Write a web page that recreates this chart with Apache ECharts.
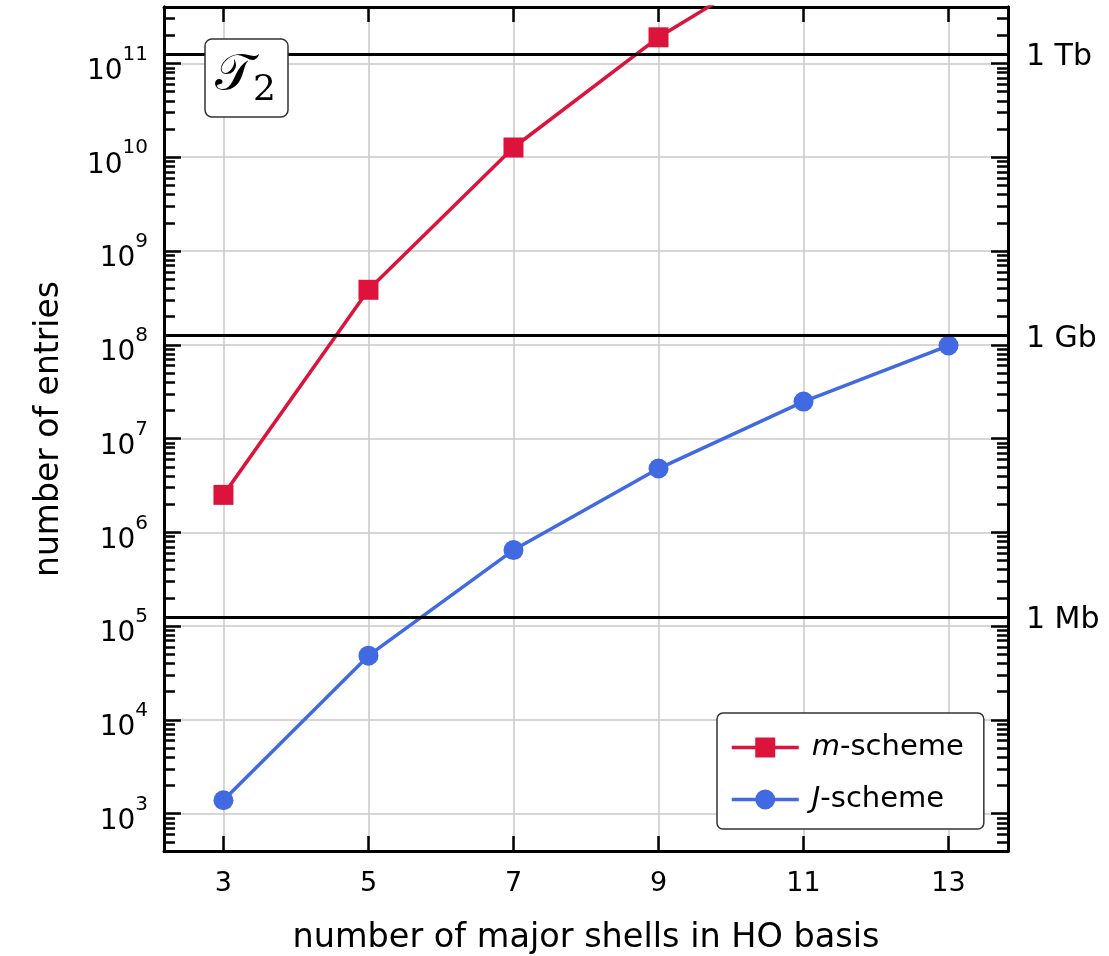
<!DOCTYPE html>
<html>
<head>
<meta charset="utf-8">
<script src="https://cdn.jsdelivr.net/npm/echarts@6/dist/echarts.min.js"></script>
<style>html,body{margin:0;padding:0;background:#fff}#c{width:1109px;height:956px}</style>
</head>
<body>
<div id="c"></div>
<script>
// ---- data ----
const shells = [3, 5, 7, 9, 11, 13];
const mSchemeShells = [3, 5, 7, 9, 11];
const mScheme = [2.51e6, 3.86e8, 1.27e10, 1.9e11, 1.66e12];
const jScheme = [1.39e3, 4.84e4, 6.47e5, 4.79e6, 2.48e7, 9.82e7];
const xTicks = [3, 5, 7, 9, 11, 13];
const yTickExponents = [3, 4, 5, 6, 7, 8, 9, 10, 11];
const memoryLimits = [1.25e5, 1.25e8, 1.25e11];
const memoryLabels = ['1 Mb', '1 Gb', '1 Tb'];
const seriesNames = ['m-scheme', 'J-scheme'];
const xTitle = 'number of major shells in HO basis';
const yTitle = 'number of entries';

const X_MIN = 2.18, X_MAX = 13.82, Y_MIN = 400, Y_MAX = 4e11;
const FONT = '"DejaVu Sans", sans-serif';
const SERIF = '"DejaVu Serif", "Liberation Serif", serif';
const RED = '#DC143C', BLUE = '#4169E1';

const yMajor = yTickExponents.map(e => Math.pow(10, e));
const yMinor = [];
for (let e = 2; e <= 11; e++) for (let k = 2; k <= 9; k++) {
  const v = k * Math.pow(10, e);
  if (v > Y_MIN && v < Y_MAX) yMinor.push(v);
}

const frame = { show: true, lineStyle: { color: '#000', width: 3 } };
function yAx(pos, values, len, labels, split) {
  return {
    type: 'log', logBase: 10, min: Y_MIN, max: Y_MAX, position: pos,
    axisLine: frame,
    axisTick: { show: true, inside: true, length: len, customValues: values, lineStyle: { color: '#000', width: 2.5 } },
    axisLabel: labels ? {
      show: true, customValues: yMajor, margin: 16, color: '#000',
      formatter: v => '{b|10}{s|' + Math.round(Math.log10(v)) + '}',
      rich: {
        b: { fontSize: 28, fontFamily: FONT, color: '#000', verticalAlign: 'bottom', lineHeight: 44 },
        s: { fontSize: 20, fontFamily: FONT, color: '#000', verticalAlign: 'top', lineHeight: 20, padding: [3, 0, 0, 0] }
      }
    } : { show: false },
    splitLine: split ? { show: true, lineStyle: { color: '#c8c8c8', width: 1.5 } } : { show: false },
    minorTick: { show: false }, minorSplitLine: { show: false }
  };
}

const option = {
  backgroundColor: '#fff',
  animation: false,
  grid: { left: 164, top: 7, right: 101, bottom: 105, outerBoundsMode: 'none', containLabel: false },
  title: {
    text: '{t|𝒯}{s|2}',
    left: 205, top: 41,
    padding: [10, 12, 8, 10],
    backgroundColor: '#fff', borderColor: '#333', borderWidth: 1.5, borderRadius: 7,
    textStyle: {
      fontWeight: 'normal',
      rich: {
        t: { fontSize: 50, fontFamily: SERIF, fontWeight: 'normal', color: '#000', verticalAlign: 'top', lineHeight: 58 },
        s: { fontSize: 36, fontFamily: SERIF, fontWeight: 'normal', color: '#000', verticalAlign: 'bottom', lineHeight: 34, padding: [24, 0, 0, 0] }
      }
    },
    z: 10
  },
  legend: {
    data: seriesNames,
    left: 717, top: 713, orient: 'vertical',
    itemWidth: 67, itemHeight: 25, itemGap: 23,
    padding: [20, 20, 15, 13],
    backgroundColor: '#fff', borderColor: '#333', borderWidth: 1.5, borderRadius: 6,
    lineStyle: { width: 3.5 },
    formatter: n => '{i|' + n[0] + '}' + n.slice(1),
    textStyle: {
      fontSize: 29, fontFamily: FONT, color: '#000', padding: [0, 0, 0, 8],
      rich: { i: { fontSize: 29, fontFamily: FONT, fontStyle: 'italic', color: '#000' } }
    },
    z: 10
  },
  xAxis: [
    {
      type: 'value', min: X_MIN, max: X_MAX, position: 'bottom',
      name: xTitle, nameLocation: 'middle', nameGap: 70,
      nameTextStyle: { fontSize: 33.5, fontFamily: FONT, color: '#000' },
      axisLine: frame,
      axisTick: { show: true, inside: true, length: 15, customValues: xTicks, lineStyle: { color: '#000', width: 2.5 } },
      axisLabel: { show: true, customValues: xTicks, fontSize: 27, fontFamily: FONT, color: '#000', margin: 19 },
      splitLine: { show: true, lineStyle: { color: '#c8c8c8', width: 1.5 } }
    },
    {
      type: 'value', min: X_MIN, max: X_MAX, position: 'top',
      axisLine: frame,
      axisTick: { show: true, inside: true, length: 15, customValues: xTicks, lineStyle: { color: '#000', width: 2.5 } },
      axisLabel: { show: false },
      splitLine: { show: false }
    }
  ],
  yAxis: [
    Object.assign(yAx('left', yMajor, 17, true, true), {
      name: yTitle, nameLocation: 'middle', nameGap: 98,
      nameTextStyle: { fontSize: 33, fontFamily: FONT, color: '#000' }
    }),
    yAx('left', yMinor, 11, false, false),
    yAx('right', yMajor, 17, false, false),
    yAx('right', yMinor, 11, false, false)
  ],
  series: [
    {
      name: 'limits', type: 'line', data: [], xAxisIndex: 0, yAxisIndex: 0, z: 1, silent: true,
      markLine: {
        silent: true, symbol: ['none', 'none'], animation: false,
        lineStyle: { color: '#000', width: 3, type: 'solid' },
        label: { show: true, position: 'end', distance: 18, fontSize: 30, fontFamily: FONT, color: '#000', offset: [0, 3], formatter: p => p.name },
        data: memoryLimits.map((v, i) => ({ yAxis: v, name: memoryLabels[i] }))
      }
    },
    {
      name: seriesNames[0], type: 'line', xAxisIndex: 0, yAxisIndex: 0, z: 3,
      data: mSchemeShells.map((x, i) => [x, mScheme[i]]),
      symbol: 'rect', symbolSize: 20,
      lineStyle: { color: RED, width: 3.5 }, itemStyle: { color: RED },
      clip: true
    },
    {
      name: seriesNames[1], type: 'line', xAxisIndex: 0, yAxisIndex: 0, z: 3,
      data: shells.map((x, i) => [x, jScheme[i]]),
      symbol: 'circle', symbolSize: 20,
      lineStyle: { color: BLUE, width: 3.5 }, itemStyle: { color: BLUE },
      clip: true
    }
  ]
};

const chart = echarts.init(document.getElementById('c'), null, { renderer: 'canvas' });
chart.setOption(option);
</script>
</body>
</html>
